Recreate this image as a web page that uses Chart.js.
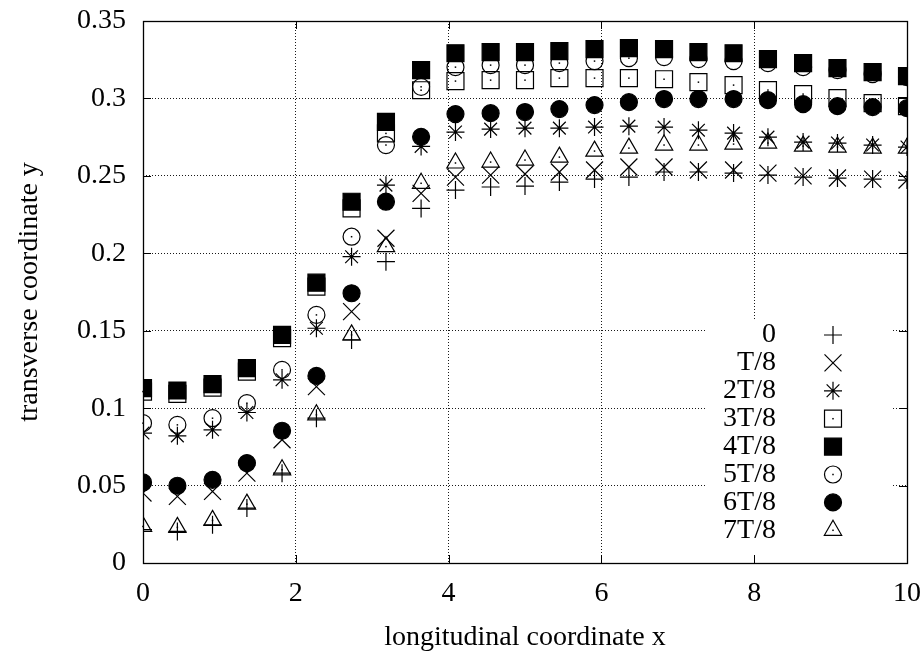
<!DOCTYPE html>
<html>
<head>
<meta charset="utf-8">
<script src="https://cdn.jsdelivr.net/npm/chart.js@4/dist/chart.umd.min.js"></script>
<style>
  html, body { margin: 0; padding: 0; background: #fff; }
  canvas { display: block; }
</style>
</head>
<body>
<canvas id="chart" width="923" height="658"></canvas>
<script>
// x positions (longitudinal coordinate)
const xs = [0, 0.45, 0.91, 1.36, 1.82, 2.27, 2.73, 3.18, 3.64, 4.09, 4.55, 5,
  5.45, 5.91, 6.36, 6.82, 7.27, 7.73, 8.18, 8.64, 9.09, 9.55, 10];

// transverse coordinate y at each phase
const t0 = [0.0215, 0.0204, 0.0247, 0.0355, 0.058, 0.0935, 0.144, 0.1946, 0.229, 0.2408, 0.2428, 0.2434,
  0.246, 0.2479, 0.2492, 0.2525, 0.2525, 0.2518, 0.2505, 0.2492, 0.2486, 0.2479, 0.2473];
const t1 = [0.0452, 0.043, 0.0462, 0.058, 0.0796, 0.1139, 0.1623, 0.2097, 0.2387, 0.2492, 0.2505, 0.2512,
  0.2525, 0.2538, 0.2557, 0.2557, 0.2538, 0.2538, 0.2518, 0.25, 0.2486, 0.2479, 0.2473];
const t2 = [0.0839, 0.0821, 0.086, 0.0972, 0.1183, 0.1516, 0.1978, 0.244, 0.269, 0.2783, 0.2802, 0.2808,
  0.2808, 0.2815, 0.2821, 0.2815, 0.2795, 0.2776, 0.275, 0.2718, 0.2712, 0.2699, 0.2686];
const t3 = [0.1107, 0.1092, 0.1133, 0.1236, 0.1452, 0.1785, 0.229, 0.2774, 0.3053, 0.3112, 0.3118, 0.3118,
  0.3131, 0.3131, 0.3131, 0.3124, 0.3105, 0.3086, 0.3054, 0.3028, 0.3002, 0.297, 0.295];
const t4 = [0.1129, 0.1114, 0.1155, 0.1258, 0.1473, 0.181, 0.2333, 0.2849, 0.3183, 0.3292, 0.3299, 0.3299,
  0.3305, 0.3318, 0.3325, 0.3318, 0.3299, 0.3292, 0.3254, 0.3228, 0.3196, 0.317, 0.3144];
const t5 = [0.0903, 0.0892, 0.0935, 0.1032, 0.1247, 0.1602, 0.2107, 0.2699, 0.3075, 0.3202, 0.3215, 0.3215,
  0.3228, 0.3241, 0.326, 0.3267, 0.3254, 0.3241, 0.3228, 0.3202, 0.3183, 0.3157, 0.3138];
const t6 = [0.052, 0.0499, 0.0537, 0.0645, 0.0854, 0.1208, 0.1742, 0.2333, 0.2752, 0.2899, 0.2905, 0.2912,
  0.2931, 0.2957, 0.2976, 0.2996, 0.2996, 0.2996, 0.2989, 0.2963, 0.295, 0.2944, 0.2937];
const t7 = [0.0236, 0.023, 0.0275, 0.038, 0.0602, 0.0957, 0.1473, 0.2043, 0.2452, 0.2583, 0.2589, 0.2602,
  0.2621, 0.266, 0.2679, 0.2699, 0.2699, 0.2705, 0.2712, 0.2692, 0.2686, 0.2679, 0.2679];

const labels = ["0", "T/8", "2T/8", "3T/8", "4T/8", "5T/8", "6T/8", "7T/8"];
const series = [t0, t1, t2, t3, t4, t5, t6, t7];

const xTicks = [0, 2, 4, 6, 8, 10];
const yTicks = [0, 0.05, 0.1, 0.15, 0.2, 0.25, 0.3, 0.35];

// marker look per series (gnuplot-like)
const markers = [
  { style: "cross", r: 9, fill: false, dot: false },
  { style: "crossRot", r: 12, fill: false, dot: false },
  { style: "star", r: 9, fill: false, dot: false },
  { style: "rect", r: 12, fill: false, dot: true },
  { style: "rect", r: 12, fill: true, dot: false },
  { style: "circle", r: 8.5, fill: false, dot: true },
  { style: "circle", r: 8.5, fill: true, dot: false },
  { style: "triangle", r: 10, fill: false, dot: true }
];

const FONT = '"Liberation Serif", "Times New Roman", serif';
Chart.defaults.font.family = FONT;
Chart.defaults.font.size = 28;
Chart.defaults.color = "#000";

const datasets = series.map((s, k) => ({
  label: labels[k],
  data: xs.map((x, i) => ({ x: x, y: s[i] })),
  pointStyle: markers[k].style,
  pointRadius: markers[k].r,
  pointBorderWidth: 1.2,
  borderColor: "#000",
  backgroundColor: markers[k].fill ? "#000" : "rgba(0,0,0,0)",
  showLine: false,
  centerDot: markers[k].dot
}));

// center dots, legend box, frame and inward ticks
const gnuplotLook = {
  id: "gnuplotLook",
  afterDatasetDraw(chart, args) {
    const ds = chart.data.datasets[args.index];
    if (!ds.centerDot) return;
    const ctx = chart.ctx;
    ctx.save();
    ctx.fillStyle = "#000";
    args.meta.data.forEach(p => ctx.fillRect(p.x - 0.75, p.y - 0.75, 1.5, 1.5));
    ctx.restore();
  },
  afterDatasetsDraw(chart) {
    const { ctx, chartArea: a, scales } = chart;
    ctx.save();

    // legend
    ctx.fillStyle = "#fff";
    ctx.fillRect(705, 319, 188, 237);
    ctx.font = "28px " + FONT;
    ctx.textAlign = "right";
    ctx.textBaseline = "middle";
    chart.data.datasets.forEach((ds, k) => {
      const cy = 335 + k * 27.9;
      ctx.fillStyle = "#000";
      ctx.fillText(ds.label, 776, cy);
      ctx.strokeStyle = "#000";
      ctx.lineWidth = 1.2;
      ctx.fillStyle = markers[k].fill ? "#000" : "rgba(0,0,0,0)";
      Chart.helpers.drawPoint(ctx, {
        pointStyle: markers[k].style, radius: markers[k].r, borderWidth: 1.2, rotation: 0
      }, 833, cy);
      if (markers[k].dot) {
        ctx.fillStyle = "#000";
        ctx.fillRect(833 - 0.75, cy - 0.75, 1.5, 1.5);
      }
    });

    // ticks
    ctx.strokeStyle = "#000";
    ctx.lineWidth = 1;
    ctx.beginPath();
    xTicks.forEach(v => {
      const px = Math.round(scales.x.getPixelForValue(v)) + 0.5;
      ctx.moveTo(px, a.bottom); ctx.lineTo(px, a.bottom - 8);
      ctx.moveTo(px, a.top); ctx.lineTo(px, a.top + 8);
    });
    yTicks.forEach(v => {
      const py = Math.round(scales.y.getPixelForValue(v)) + 0.5;
      ctx.moveTo(a.left, py); ctx.lineTo(a.left + 8, py);
      ctx.moveTo(a.right, py); ctx.lineTo(a.right - 8, py);
    });
    ctx.stroke();

    // frame
    ctx.lineWidth = 1.3;
    ctx.strokeRect(Math.round(a.left) + 0.5, Math.round(a.top) + 0.5,
      Math.round(a.width), Math.round(a.height));
    ctx.restore();
  }
};

new Chart(document.getElementById("chart"), {
  type: "scatter",
  data: { datasets },
  plugins: [gnuplotLook],
  options: {
    responsive: false,
    animation: false,
    devicePixelRatio: 1,
    events: [],
    layout: { padding: { top: 21, right: 16, left: 0, bottom: 0 } },
    plugins: {
      legend: { display: false },
      tooltip: { enabled: false }
    },
    scales: {
      x: {
        type: "linear",
        min: 0,
        max: 10,
        afterFit: s => { s.height = 95; s.paddingLeft = 0; s.paddingRight = 0; },
        afterBuildTicks: s => { s.ticks = xTicks.map(v => ({ value: v })); },
        ticks: { padding: 14, maxRotation: 0, callback: v => String(v) },
        grid: { color: "rgba(0,0,0,0.9)", lineWidth: 1, drawTicks: false },
        border: { display: false, dash: [1, 2] },
        title: { display: true, text: "longitudinal coordinate x", padding: { top: 0, bottom: 4 } }
      },
      y: {
        type: "linear",
        min: 0,
        max: 0.35,
        afterFit: s => { s.width = 143; s.paddingTop = 0; s.paddingBottom = 0; },
        afterBuildTicks: s => { s.ticks = yTicks.map(v => ({ value: v })); },
        ticks: { padding: 17, callback: v => String(+v.toFixed(2)) },
        grid: { color: "rgba(0,0,0,0.9)", lineWidth: 1, drawTicks: false },
        border: { display: false, dash: [1, 2] },
        title: { display: true, text: "transverse coordinate y", padding: { top: 13, bottom: 0 } }
      }
    }
  }
});
</script>
</body>
</html>
